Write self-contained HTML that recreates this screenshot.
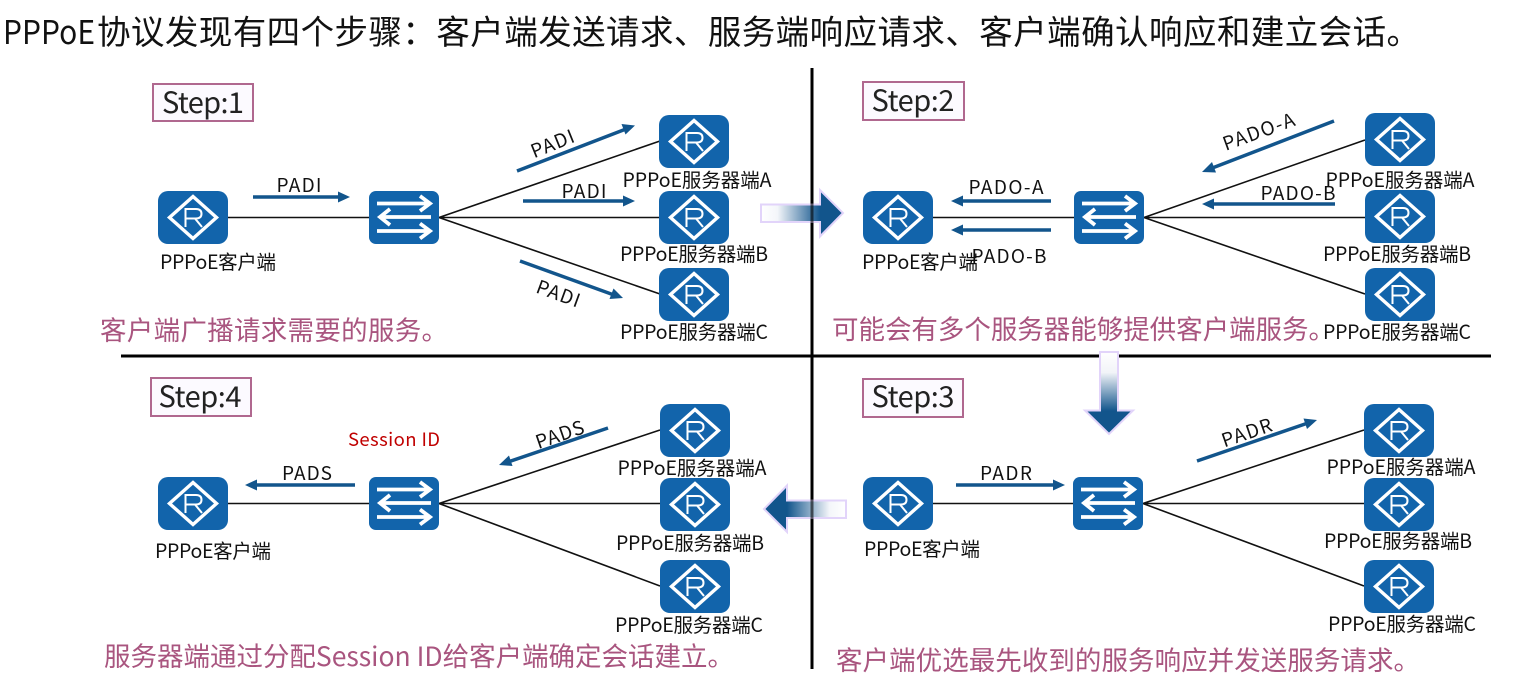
<!DOCTYPE html>
<html><head><meta charset="utf-8"><style>
html,body{margin:0;padding:0;background:#fff;width:1518px;height:686px;overflow:hidden}
svg{display:block}
text{font-family:"Liberation Sans","Noto Sans CJK SC",sans-serif}
.n{font-family:"Noto Sans CJK SC",sans-serif;font-size:19.5px;fill:#111;text-anchor:middle}
.p{font-family:"Noto Sans CJK SC",sans-serif;font-size:19px;fill:#111;text-anchor:middle}
.c{font-family:"Noto Sans CJK SC",sans-serif;font-size:26.5px;fill:#a9557f}
.s{font-family:"Noto Sans CJK SC",sans-serif;font-size:29px;fill:#222;text-anchor:middle}
.l{stroke:#111;stroke-width:1.6;fill:none}
.a{stroke:#12558c;stroke-width:3.5;fill:none}
.b{fill:#fcfaff;stroke:#b0688f;stroke-width:2}
</style></head><body>
<svg width="1518" height="686" viewBox="0 0 1518 686" xmlns="http://www.w3.org/2000/svg">
<defs>
<symbol id="r" viewBox="0 0 70 53" width="70" height="53">
<rect width="70" height="53" rx="10" fill="#1264ab"/>
<path d="M35 5.500 L58.500 26.500 L35 47.500 L11.500 26.500Z" fill="none" stroke="#fff" stroke-width="3.400"/>
<path d="M27.500 36 V18 H38 Q43.500 18 43.500 22.800 Q43.500 27.500 38 27.500 H27.500 M37 27.500 L44 36" fill="none" stroke="#fff" stroke-width="2"/>
</symbol>
<symbol id="w" viewBox="0 0 70 53" width="70" height="53">
<rect width="70" height="53" rx="7" fill="#1264ab"/>
<path d="M8 12.500 H60 M51 5 L61 12.500 L51 20 M62 26 H12 M21 18 L11 26 L21 34 M8 40 H60 M51 32.500 L61 40 L51 47.500" fill="none" stroke="#fff" stroke-width="3.800"/>
</symbol>
<linearGradient id="gr" x1="0" x2="1" y1="0" y2="0"><stop offset="0" stop-color="#fff"/><stop offset=".2" stop-color="#f4f6fa"/><stop offset=".72" stop-color="#12558c"/><stop offset="1" stop-color="#12558c"/></linearGradient>
<linearGradient id="gl" x1="1" x2="0" y1="0" y2="0"><stop offset="0" stop-color="#fff"/><stop offset=".2" stop-color="#f4f6fa"/><stop offset=".72" stop-color="#12558c"/><stop offset="1" stop-color="#12558c"/></linearGradient>
<linearGradient id="gd" x1="0" x2="0" y1="0" y2="1"><stop offset="0" stop-color="#fff"/><stop offset=".25" stop-color="#f2f4f8"/><stop offset=".72" stop-color="#12558c"/><stop offset="1" stop-color="#12558c"/></linearGradient>
</defs>

<text x="3" y="44" font-size="33" style="font-family:'Noto Sans CJK SC',sans-serif" fill="#111" textLength="92" lengthAdjust="spacingAndGlyphs">PPPoE</text>
<text x="97" y="44" font-size="33.5" style="font-family:'Noto Sans CJK SC',sans-serif" fill="#111" textLength="1323" lengthAdjust="spacing">协议发现有四个步骤：客户端发送请求、服务端响应请求、客户端确认响应和建立会话。</text>

<!-- connectors -->
<path class="l" d="M228 217.500H369M439 217.500L660 141M439 217.500H660M439 217.500L660 294"/>
<path class="l" d="M933 217.500H1074M1144 217.500L1365 140M1144 217.500H1365M1144 217.500L1365 294"/>
<path class="l" d="M933 503.500H1073M1143 503.500L1364 430M1143 503.500H1364M1143 503.500L1364 586"/>
<path class="l" d="M228 503.500H369M439 503.500L660 430M439 503.500H660M439 503.500L660 586"/>

<!-- dividers -->
<path d="M812 68V669M121 356H1491" stroke="#000" stroke-width="3" fill="none"/>

<!-- large arrows -->
<path d="M761 204.500H820V190L843 213L820 236.500V222H761Z" fill="url(#gr)" stroke="#e2d4fa" stroke-width="2"/>
<path d="M1100 352V410.500H1085L1109 434L1133 410.500H1118V352Z" fill="url(#gd)" stroke="#e2d4fa" stroke-width="2"/>
<path d="M846 500.500H787V485.500L764 509L787 532V518H846Z" fill="url(#gl)" stroke="#e2d4fa" stroke-width="2"/>
<path d="M812 203.500V223M812 499.500V519" stroke="#000" stroke-width="3" stroke-opacity=".6" fill="none"/>

<!-- devices -->
<use href="#r" x="158" y="191"/><use href="#w" x="369" y="191"/>
<use href="#r" x="659" y="115"/><use href="#r" x="659" y="191"/><use href="#r" x="659" y="268"/>
<use href="#r" x="863" y="191"/><use href="#w" x="1074" y="191"/>
<use href="#r" x="1365" y="113"/><use href="#r" x="1365" y="190"/><use href="#r" x="1365" y="268"/>
<use href="#r" x="863" y="477"/><use href="#w" x="1073" y="477"/>
<use href="#r" x="1364" y="404"/><use href="#r" x="1364" y="478"/><use href="#r" x="1364" y="560"/>
<use href="#r" x="158" y="477"/><use href="#w" x="369" y="477"/>
<use href="#r" x="660" y="404"/><use href="#r" x="660" y="478"/><use href="#r" x="660" y="560"/>

<!-- step boxes -->
<rect class="b" x="153" y="84" width="100" height="37"/><text class="s" x="203" y="113" textLength="82">Step:1</text>
<rect class="b" x="863" y="82" width="101" height="38"/><text class="s" x="913" y="111" textLength="83">Step:2</text>
<rect class="b" x="863" y="379" width="100" height="38"/><text class="s" x="913" y="407" textLength="83">Step:3</text>
<rect class="b" x="151" y="378" width="100" height="38"/><text class="s" x="200" y="407" textLength="83">Step:4</text>

<!-- blue arrows -->
<g class="a">
<path d="M253 197H340M517 171L626 129M523 201H625M520 261L614 295"/>
<path d="M1334 121L1211 168.500M1335 204H1211M1051 201H960M1051 230H960"/>
<path d="M956 485H1056M1197 461L1308 423"/>
<path d="M355 485H254M608 428L508 462"/>
</g>
<g fill="#12558c">
<path d="M350 197L338 191.500V202.500Z"/>
<path d="M635 125.500L621.500 124L625.500 134.500Z"/>
<path d="M635 201L623 195.500V206.500Z"/>
<path d="M623 298L613.500 288.500L609.500 299Z"/>
<path d="M1202 172L1212 162L1216 172.500Z"/>
<path d="M1202 204L1214 198.500V209.500Z"/>
<path d="M951 201L963 195.500V206.500Z"/>
<path d="M951 230L963 224.500V235.500Z"/>
<path d="M1065 485L1053 479.500V490.500Z"/>
<path d="M1317 420L1303.500 418.500L1307 429Z"/>
<path d="M245 485L257 479.500V490.500Z"/>
<path d="M499 465L509 455.500L512.500 466Z"/>
</g>

<!-- arrow labels -->
<text class="p" x="299" y="192" textLength="45">PADI</text>
<text class="p" transform="translate(555 150) rotate(-22)" textLength="45">PADI</text>
<text class="p" x="584" y="198" textLength="45">PADI</text>
<text class="p" transform="translate(556 300) rotate(20)" textLength="45">PADI</text>
<text class="p" x="1006" y="194" textLength="75">PADO-A</text>
<text class="p" x="1009" y="263" textLength="75">PADO-B</text>
<text class="p" transform="translate(1261 138) rotate(-20)" textLength="75">PADO-A</text>
<text class="p" x="1298" y="200" textLength="75">PADO-B</text>
<text class="p" x="1006" y="480" textLength="52">PADR</text>
<text class="p" transform="translate(1249 439) rotate(-19)" textLength="52">PADR</text>
<text class="p" x="307" y="480" textLength="50">PADS</text>
<text class="p" transform="translate(562 441) rotate(-19)" textLength="50">PADS</text>
<text x="394" y="446" font-size="18.5" style="font-family:'Noto Sans CJK SC',sans-serif;text-anchor:middle" fill="#c00000" textLength="92">Session ID</text>

<!-- node labels -->
<text class="n" x="218" y="269" textLength="116">PPPoE客户端</text>
<text class="n" x="697" y="187" textLength="149">PPPoE服务器端A</text>
<text class="n" x="694" y="261" textLength="148">PPPoE服务器端B</text>
<text class="n" x="694" y="339" textLength="148">PPPoE服务器端C</text>
<text class="n" x="920" y="269" textLength="116">PPPoE客户端</text>
<text class="n" x="1400" y="187" textLength="149">PPPoE服务器端A</text>
<text class="n" x="1397" y="261" textLength="148">PPPoE服务器端B</text>
<text class="n" x="1397" y="339" textLength="148">PPPoE服务器端C</text>
<text class="n" x="922" y="556" textLength="116">PPPoE客户端</text>
<text class="n" x="1401" y="474" textLength="149">PPPoE服务器端A</text>
<text class="n" x="1398" y="548" textLength="148">PPPoE服务器端B</text>
<text class="n" x="1402" y="631" textLength="148">PPPoE服务器端C</text>
<text class="n" x="213" y="558" textLength="116">PPPoE客户端</text>
<text class="n" x="692" y="475" textLength="149">PPPoE服务器端A</text>
<text class="n" x="690" y="550" textLength="148">PPPoE服务器端B</text>
<text class="n" x="689" y="632" textLength="148">PPPoE服务器端C</text>

<!-- captions -->
<text class="c" x="100" y="340" textLength="348">客户端广播请求需要的服务。</text>
<text class="c" x="832" y="339" textLength="503">可能会有多个服务器能够提供客户端服务。</text>
<text class="c" x="836" y="670" textLength="584">客户端优选最先收到的服务响应并发送服务请求。</text>
<text class="c" x="104" y="666" textLength="630">服务器端通过分配Session ID给客户端确定会话建立。</text>
</svg>
</body></html>
